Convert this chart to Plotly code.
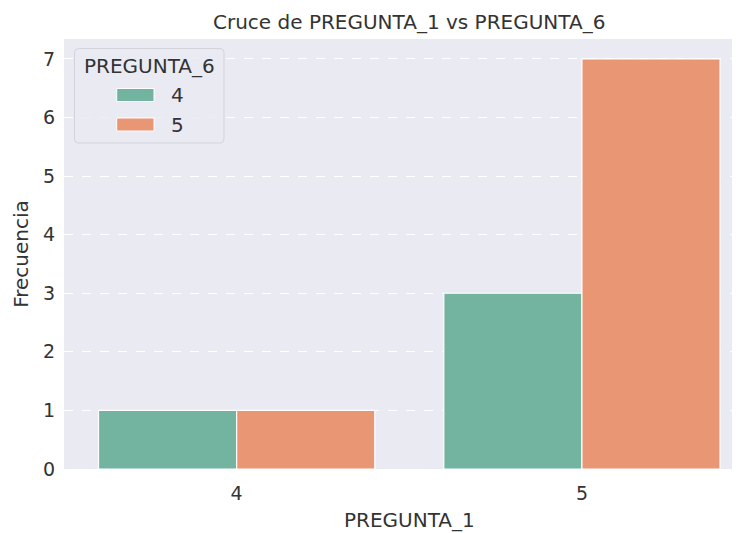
import plotly.graph_objects as go

categories = ["4", "5"]
series_names = ["4", "5"]
values_p6_4 = [1, 3]
values_p6_5 = [1, 7]
colors = ["#73b4a0", "#e89674"]
legend_title = "PREGUNTA_6"
chart_title = "Cruce de PREGUNTA_1 vs PREGUNTA_6"
x_title = "PREGUNTA_1"
y_title = "Frecuencia"

fig = go.Figure()
for name, vals, col in zip(series_names, [values_p6_4, values_p6_5], colors):
    fig.add_trace(go.Bar(
        x=categories, y=vals, name=name, showlegend=False,
        marker=dict(color=col, line=dict(color="white", width=1.2)),
    ))

# page body has an 8px margin; figure is sized to fit the 740x533 window
W, H = 732, 525
ML, MR, MT, MB = 56, 2, 31, 64
PX0, PX1 = 8 + ML, 8 + W - MR      # plot area in page pixels
PY0, PY1 = 8 + MT, 8 + H - MB

def px(x):
    return (x - PX0) / (PX1 - PX0)

def py(y):
    return (PY1 - y) / (PY1 - PY0)

font_family = "DejaVu Sans"
text_color = "#333333"

# the reference axes are cut off at the right edge, so its centred titles sit right of centre
CENTER_X = 409

shapes, annotations = [], []
annotations.append(dict(text=chart_title, xref="paper", yref="paper",
                        x=px(CENTER_X), y=py(22), xanchor="center", yanchor="middle",
                        showarrow=False, font=dict(size=20, color=text_color)))
annotations.append(dict(text=x_title, xref="paper", yref="paper",
                        x=px(CENTER_X), y=py(520), xanchor="center", yanchor="middle",
                        showarrow=False, font=dict(size=20, color=text_color)))

# seaborn-style legend box (drawn as shapes/annotations)
bx0, bx1, by0, by1, r = 74.5, 224, 48.5, 143, 4
path = (f"M {px(bx0 + r)},{py(by0)} L {px(bx1 - r)},{py(by0)} "
        f"Q {px(bx1)},{py(by0)} {px(bx1)},{py(by0 + r)} "
        f"L {px(bx1)},{py(by1 - r)} Q {px(bx1)},{py(by1)} {px(bx1 - r)},{py(by1)} "
        f"L {px(bx0 + r)},{py(by1)} Q {px(bx0)},{py(by1)} {px(bx0)},{py(by1 - r)} "
        f"L {px(bx0)},{py(by0 + r)} Q {px(bx0)},{py(by0)} {px(bx0 + r)},{py(by0)} Z")
shapes.append(dict(type="path", xref="paper", yref="paper", path=path,
                   fillcolor="rgba(234,234,242,0.8)", line=dict(color="#d3d3da", width=1)))
annotations.append(dict(text=legend_title, xref="paper", yref="paper",
                        x=px((bx0 + bx1) / 2), y=py(65.7), xanchor="center", yanchor="middle",
                        showarrow=False, font=dict(size=20, color=text_color)))
row_y = [95, 124.5]
for name, col, yc in zip(series_names, colors, row_y):
    shapes.append(dict(type="rect", xref="paper", yref="paper",
                       x0=px(116.7), x1=px(154), y0=py(yc - 6.5), y1=py(yc + 6.5),
                       fillcolor=col, line=dict(color="white", width=1)))
    annotations.append(dict(text=name, xref="paper", yref="paper",
                            x=px(169), y=py(yc + 0.5), xanchor="left", yanchor="middle",
                            showarrow=False, font=dict(size=20, color=text_color)))

fig.update_layout(
    width=W, height=H,
    barmode="group", bargap=0.2, bargroupgap=0,
    paper_bgcolor="white", plot_bgcolor="#eaeaf2",
    margin=dict(l=ML, r=MR, t=MT, b=MB),
    font=dict(family=font_family, color=text_color, size=19),
    showlegend=False,
    xaxis=dict(type="category", range=[-0.5, 1.452], showgrid=False, zeroline=False,
               ticks="", tickfont=dict(size=19), ticklabelstandoff=11),
    yaxis=dict(range=[0, 7.34], tickvals=[0, 1, 2, 3, 4, 5, 6, 7], showgrid=True,
               gridcolor="white", griddash="dash", gridwidth=1, zeroline=False,
               ticks="", tickfont=dict(size=19), ticklabelstandoff=8,
               title=dict(text=y_title, font=dict(size=20), standoff=8)),
    shapes=shapes,
    annotations=annotations,
)
fig.write_html("out.html")
